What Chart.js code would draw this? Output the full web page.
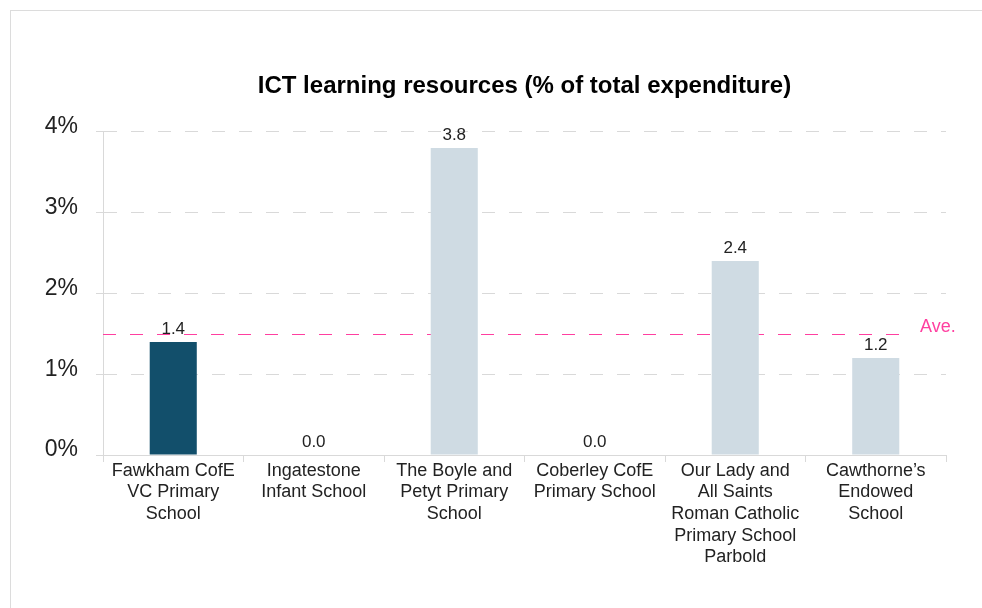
<!DOCTYPE html>
<html>
<head>
<meta charset="utf-8">
<script src="https://cdn.jsdelivr.net/npm/chart.js@4/dist/chart.umd.min.js"></script>
<style>
  html, body { margin: 0; padding: 0; background: #fff; overflow: hidden; }
  #frame { position: absolute; left: 10px; top: 10px; width: 1200px; height: 900px; border: 1px solid #dcdcdc; }
  #wrap { position: absolute; left: 0; top: 0; width: 982px; height: 608px; }
</style>
</head>
<body>
<div id="frame"></div>
<div id="wrap"><canvas id="c" width="982" height="608"></canvas></div>
<script>
const categories = [
  ["Fawkham CofE", "VC Primary", "School"],
  ["Ingatestone", "Infant School"],
  ["The Boyle and", "Petyt Primary", "School"],
  ["Coberley CofE", "Primary School"],
  ["Our Lady and", "All Saints", "Roman Catholic", "Primary School", "Parbold"],
  ["Cawthorne\u2019s", "Endowed", "School"]
];
const values = [1.4, 0.0, 3.8, 0.0, 2.4, 1.2];
const averageValue = 1.5;
const averageLabel = "Ave.";
const yTicks = [0, 1, 2, 3, 4];
const chartTitle = "ICT learning resources (% of total expenditure)";
const barColors = ["#124f6b", "#cfdbe3", "#cfdbe3", "#cfdbe3", "#cfdbe3", "#cfdbe3"];

const FONT = "'Liberation Sans', Arial, sans-serif";

const valueLabels = {
  id: 'valueLabels',
  afterDatasetsDraw(chart) {
    const ctx = chart.ctx;
    const meta = chart.getDatasetMeta(0);
    ctx.save();
    ctx.font = "17px " + FONT;
    ctx.fillStyle = "#222";
    ctx.textAlign = "center";
    ctx.textBaseline = "bottom";
    meta.data.forEach((bar, i) => {
      ctx.fillText(values[i].toFixed(1), bar.x, bar.y - 4);
    });
    ctx.restore();
  }
};

const averageLine = {
  id: 'averageLine',
  beforeDatasetsDraw(chart) {
    const ctx = chart.ctx;
    const y = chart.scales.y.getPixelForValue(averageValue);
    const area = chart.chartArea;
    ctx.save();
    ctx.strokeStyle = "#ff3fa0";
    ctx.lineWidth = 1;
    ctx.setLineDash([13, 14]);
    ctx.beginPath();
    ctx.moveTo(area.left, Math.round(y) + 0.5);
    ctx.lineTo(area.right - 34, Math.round(y) + 0.5);
    ctx.stroke();
    ctx.setLineDash([]);
    ctx.font = "18px " + FONT;
    ctx.fillStyle = "#ff3fa0";
    ctx.textAlign = "left";
    ctx.textBaseline = "bottom";
    ctx.fillText(averageLabel, area.right - 26, y + 2);
    ctx.restore();
  }
};

new Chart(document.getElementById('c'), {
  type: 'bar',
  data: {
    labels: categories,
    datasets: [{
      data: values,
      backgroundColor: barColors,
      borderWidth: 0,
      categoryPercentage: 1,
      barPercentage: 0.335
    }]
  },
  plugins: [averageLine, valueLabels],
  options: {
    responsive: false,
    animation: false,
    devicePixelRatio: 1,
    layout: { padding: { left: 0, right: 36, top: 0, bottom: 0 } },
    plugins: {
      legend: { display: false },
      tooltip: { enabled: false },
      title: {
        display: true,
        text: chartTitle,
        fullSize: false,
        color: "#000",
        font: { family: FONT, size: 24, weight: 'bold', lineHeight: 1.2 },
        padding: { top: 72, bottom: 31 }
      }
    },
    scales: {
      x: {
        offset: true,
        grid: { display: true, drawOnChartArea: false, drawTicks: true, tickLength: 7, color: "#d9d9d9", offset: true },
        border: { display: true, color: "#d9d9d9" },
        ticks: {
          color: "#222",
          font: { family: FONT, size: 18, lineHeight: 1.2 },
          padding: -2,
          maxRotation: 0,
          autoSkip: false
        },
        afterFit(scale) { scale.height = 153; }
      },
      y: {
        min: 0,
        max: 4,
        afterBuildTicks(scale) { scale.ticks = yTicks.map(v => ({ value: v })); },
        grid: { color: "#d9d9d9", tickLength: 7, drawTicks: true, tickBorderDash: [] },
        border: { display: true, color: "#d9d9d9", dash: [13, 14] },
        ticks: {
          color: "#222",
          font: { family: FONT, size: 23 },
          padding: 18,
          labelOffset: -5,
          callback: (v) => v + "%"
        },
        afterFit(scale) { scale.width = 103; }
      }
    }
  }
});
</script>
</body>
</html>
